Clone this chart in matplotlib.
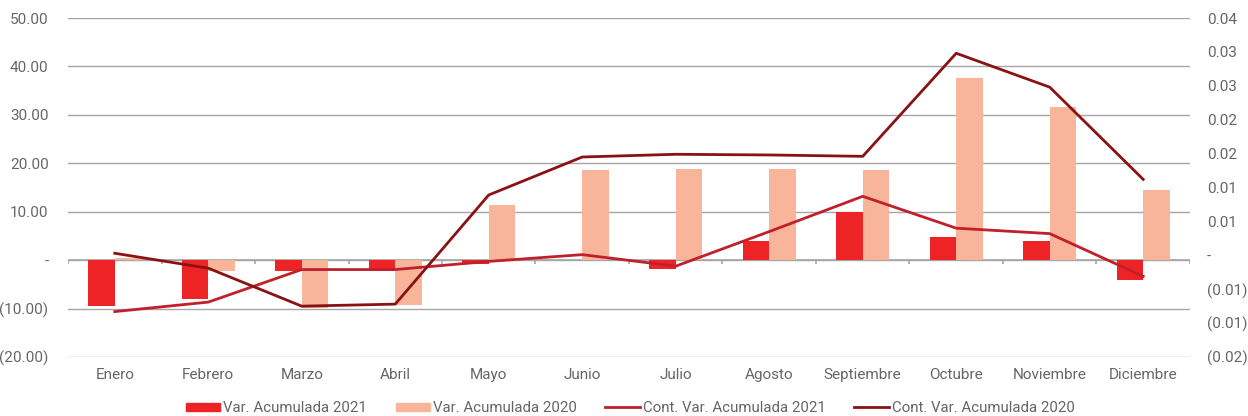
import matplotlib
matplotlib.use("Agg")
import matplotlib.pyplot as plt
from matplotlib.ticker import FuncFormatter, MultipleLocator
from matplotlib.patches import Patch
from matplotlib.lines import Line2D
from decimal import Decimal, ROUND_HALF_UP
import numpy as np

plt.rcParams['font.family'] = ['Roboto', 'DejaVu Sans']

meses = ["Enero", "Febrero", "Marzo", "Abril", "Mayo", "Junio", "Julio",
         "Agosto", "Septiembre", "Octubre", "Noviembre", "Diciembre"]

# barras (eje izquierdo)
var_2021 = [-9.5, -8.1, -2.3, -2.3, -0.8, 0.0, -1.8, 3.9, 9.9, 4.8, 3.9, -4.1]
var_2020 = [0.4, -2.3, -9.9, -9.3, 11.4, 18.6, 18.8, 18.8, 18.6, 37.6, 31.6, 14.5]

# líneas (eje derecho)
cont_2021 = [-0.0083, -0.0069, -0.0021, -0.0021, -0.0009, 0.0001, -0.0016,
             0.0035, 0.0087, 0.0040, 0.0032, -0.0031]
cont_2020 = [0.0003, -0.0019, -0.0075, -0.0072, 0.0089, 0.0145, 0.0149,
             0.0148, 0.0146, 0.0298, 0.0248, 0.0112]

c_bar21 = '#EE2326'
c_bar20 = '#F9B59A'
c_line21 = '#C0202A'
c_line20 = '#8B1214'
c_txt = '#666666'
c_grid = '#A6A6A6'
fs = 11


def fmt_excel(v, dec):
    if abs(v) < 1e-12:
        return "-"
    q = Decimal(str(round(abs(v), 10))).quantize(Decimal(1).scaleb(-dec), rounding=ROUND_HALF_UP)
    s = f"{q:.{dec}f}"
    return f"({s})" if v < 0 else s


fig = plt.figure(figsize=(12.48, 4.16), dpi=100)
ax = fig.add_axes([0.0545, 0.1418, 0.899, 0.8149])

x = np.arange(len(meses))
w = 0.285
ax.bar(x - w / 2, var_2021, w, color=c_bar21, zorder=3)
ax.bar(x + w / 2, var_2020, w, color=c_bar20, zorder=3)

ax.set_ylim(-20, 50)
ax.set_xlim(-0.5, len(meses) - 0.5)
ax.yaxis.set_major_locator(MultipleLocator(10))
ax.yaxis.set_major_formatter(FuncFormatter(lambda v, p: fmt_excel(v, 2)))
ax.grid(axis='y', color=c_grid, linewidth=1, zorder=0)
ax.axhline(0, color=c_grid, linewidth=1.2, zorder=2)
ax.vlines(np.arange(len(meses) + 1) - 0.5, -0.8, 0, color=c_grid, linewidth=1.2, zorder=2)

ax.set_xticks(x)
ax.set_xticklabels(meses)
ax.tick_params(axis='x', length=0, pad=8, labelsize=fs, colors=c_txt)
ax.tick_params(axis='y', length=0, pad=14, labelsize=fs, colors=c_txt)
for s in ax.spines.values():
    s.set_visible(False)

ax2 = ax.twinx()
ax2.plot(x, cont_2021, color=c_line21, linewidth=2, zorder=4)
ax2.plot(x, cont_2020, color=c_line20, linewidth=2, zorder=5)
ax2.set_ylim(-0.015, 0.035)
ax2.yaxis.set_major_locator(MultipleLocator(0.005))
ax2.yaxis.set_major_formatter(FuncFormatter(lambda v, p: fmt_excel(v, 2)))
ax2.tick_params(axis='y', length=0, pad=12, labelsize=fs, colors=c_txt)
for s in ax2.spines.values():
    s.set_visible(False)

handles = [
    Patch(color=c_bar21, label="Var. Acumulada 2021"),
    Patch(color=c_bar20, label="Var. Acumulada 2020"),
    Line2D([], [], color=c_line21, linewidth=2, label="Cont. Var. Acumulada 2021"),
    Line2D([], [], color=c_line20, linewidth=2, label="Cont. Var. Acumulada 2020"),
]
leg = fig.legend(handles=handles, loc='lower center', bbox_to_anchor=(0.505, -0.03),
                 ncol=4, frameon=False, fontsize=10.8, handlelength=2.3, handleheight=0.45,
                 handletextpad=0.2, columnspacing=1.9)
for t in leg.get_texts():
    t.set_color(c_txt)

fig.savefig("out.png", dpi=100)
